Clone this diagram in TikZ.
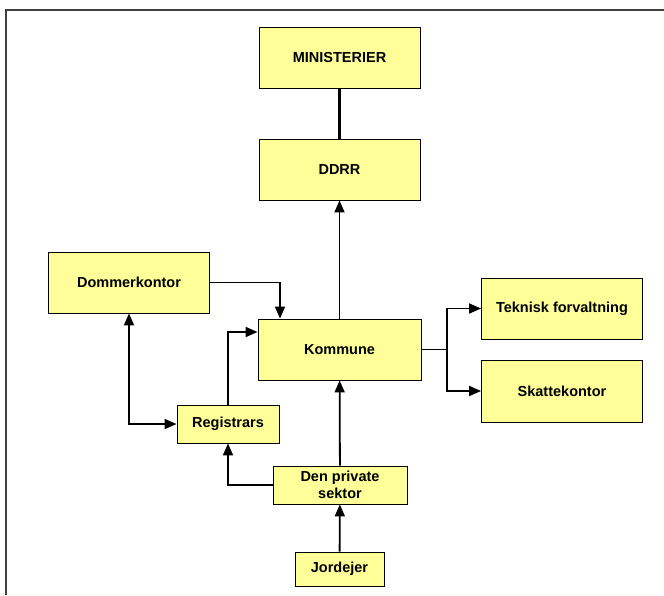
\documentclass[tikz,border=0pt]{standalone}
\usepackage{fontspec}
\setmainfont{Liberation Sans}
\usetikzlibrary{arrows.meta}
\definecolor{boxfill}{HTML}{FFFF99}
\begin{document}
\begin{tikzpicture}[x=1pt,y=-1pt,
    unit/.style={draw=black,line width=0.9pt,fill=boxfill,inner sep=0pt,align=center,
      font=\fontsize{14.5}{17.5}\selectfont\bfseries},
    big/.style={unit,minimum width=161pt,minimum height=61pt},
    tip/.style={Triangle[length=12pt,width=10pt]},
    link/.style={line width=1.8pt,-{Triangle[length=12pt,width=10pt]}}]
      \useasboundingbox (0,0) rectangle (664,595);
      \draw[line width=1.6pt,black!75] (6,595) -- (6,10) -- (664,10);
      \draw
        (339.5,57.5) node[big] (min){MINISTERIER}
        (339.5,169.5) node[big] (ddrr){DDRR}
        (129,282.5) node[big] (dom){Dommerkontor}
        (339.5,349.5) node[big,minimum width=163pt] (kom){Kommune}
        (562,308.5) node[big] (tek){Teknisk forvaltning}
        (562,391) node[big,minimum height=62pt] (skat){Skattekontor}
        (228,424) node[unit,minimum width=102pt,minimum height=38pt] (reg){Registrars}
        (340,485) node[unit,minimum width=134pt,minimum height=38pt] (priv){Den private\\sektor}
        (339.5,569) node[unit,minimum width=89pt,minimum height=34pt] (jord){Jordejer};
      \coordinate (split) at (447,349.5);
      \begin{scope}[link]
        \draw[-,line width=3.5pt] (min) to (ddrr);
        \draw (kom) to (ddrr);
        \draw (dom.east) -| ([xshift=-59.5pt]kom.north);
        \draw[{Triangle[length=12pt,width=10pt]}-{Triangle[length=12pt,width=10pt]}] (dom.south) |- (reg.west);
        \draw (reg.north) |- ([yshift=17.5pt]kom.west);
        \draw (priv.west) -| (reg.south);
        \draw (priv) to (kom);
        \draw (jord) to (priv);
        \draw[-] (kom.east) to (split);
        \draw (split) |- (tek.west);
        \draw (split) |- (skat.west);
      \end{scope}
    \end{tikzpicture}
\end{document}
